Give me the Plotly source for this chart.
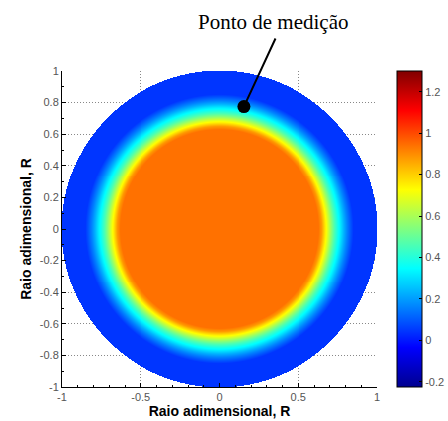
import numpy as np
import plotly.graph_objects as go

# Radial profile (dimensionless radius -> value)
profile_r = [0.0, 0.63, 0.65, 0.67, 0.69, 0.71, 0.73, 0.75, 0.77, 0.79, 0.81, 0.83, 0.85, 1.0]
profile_v = [0.94, 0.94, 0.88, 0.77, 0.67, 0.56, 0.46, 0.38, 0.31, 0.23, 0.16, 0.10, 0.045, 0.045]

# Measurement point
point_x = [0.155]
point_y = [0.775]

x_ticks = [-1, -0.5, 0, 0.5, 1]
y_ticks = [-1, -0.8, -0.6, -0.4, -0.2, 0, 0.2, 0.4, 0.6, 0.8, 1]
cb_ticks = [-0.2, 0, 0.2, 0.4, 0.6, 0.8, 1, 1.2]
c_min, c_max = -0.225, 1.3

n = 320
xs = np.linspace(-1, 1, n)
ys = np.linspace(-1, 1, n)
X, Y = np.meshgrid(xs, ys)
R = np.sqrt(X**2 + Y**2)
Z = np.interp(R, profile_r, profile_v)
Z[R > 1.0] = np.nan

jet = [
    [0.0, "rgb(0,0,143)"],
    [0.125, "rgb(0,0,255)"],
    [0.375, "rgb(0,255,255)"],
    [0.625, "rgb(255,255,0)"],
    [0.875, "rgb(255,0,0)"],
    [1.0, "rgb(128,0,0)"],
]

fig = go.Figure()
fig.add_trace(go.Heatmap(
    x=xs, y=ys, z=Z, colorscale=jet, zmin=c_min, zmax=c_max,
    hoverongaps=False,
    colorbar=dict(
        x=1.063, xanchor="left", y=0.5, yanchor="middle", len=1.0, lenmode="fraction",
        xpad=0, ypad=0,
        thickness=25, outlinecolor="black", outlinewidth=1,
        tickvals=cb_ticks, ticktext=["-0.2", "0", "0.2", "0.4", "0.6", "0.8", "1", "1.2"],
        ticks="inside", ticklen=3, tickcolor="black",
        tickfont=dict(family="Liberation Sans, Arial", size=11, color="#555555"),
    ),
))
fig.add_trace(go.Scatter(
    x=point_x, y=point_y, mode="markers",
    marker=dict(color="black", size=13), showlegend=False, hoverinfo="skip",
))

fig.add_annotation(
    x=point_x[0], y=point_y[0], xref="x", yref="y",
    ax=0.36, ay=1.215, axref="x", ayref="y",
    text="", showarrow=True, arrowhead=0, arrowwidth=2, arrowcolor="black",
)
fig.add_annotation(
    x=0.67, y=1.155, xref="paper", yref="paper", xanchor="center", yanchor="middle",
    text="Ponto de medição", showarrow=False,
    font=dict(family="Liberation Serif, Times New Roman", size=21, color="black"),
)

axis_common = dict(
    showgrid=True, gridcolor="#888888", griddash="1px,2px", gridwidth=1,
    zeroline=False, showline=True, linecolor="black", linewidth=1,
    ticks="inside", ticklen=4, tickcolor="black",
    minor=dict(ticks="inside", ticklen=2, tickcolor="black", nticks=5, showgrid=False),
    tickfont=dict(family="Liberation Sans, Arial", size=11, color="#555555"),
)
fig.update_xaxes(
    range=[-1, 1], tickvals=x_ticks, ticktext=["-1", "-0.5", "0", "0.5", "1"],
    title=dict(text="<b>Raio adimensional, R</b>", standoff=3,
               font=dict(family="Liberation Sans, Arial", size=14, color="black")),
    **axis_common,
)
fig.update_yaxes(
    range=[-1, 1], tickvals=y_ticks,
    ticktext=["-1", "-0.8", "-0.6", "-0.4", "-0.2", "0", "0.2", "0.4", "0.6", "0.8", "1"],
    title=dict(text="<b>Raio adimensional, R</b>", standoff=4,
               font=dict(family="Liberation Sans, Arial", size=14, color="black")),
    **axis_common,
)

fig.update_layout(
    width=448, height=421,
    margin=dict(l=62, r=71, t=71, b=34, autoexpand=False),
    paper_bgcolor="white", plot_bgcolor="white",
    showlegend=False,
)

fig.write_html("out.html")
